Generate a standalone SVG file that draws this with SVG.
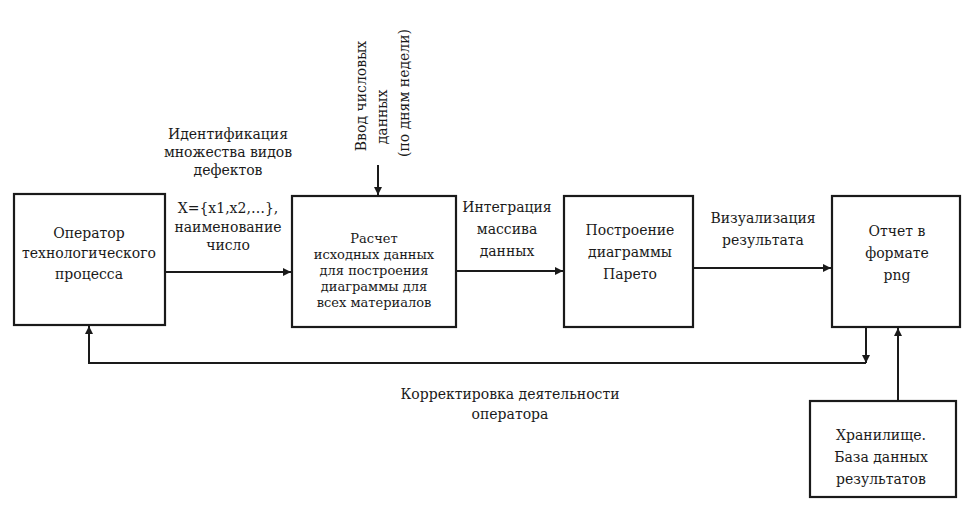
<svg xmlns="http://www.w3.org/2000/svg" width="963" height="508" viewBox="0 0 963 508">
<style>
.box{fill:#fff;stroke:#1a1a1a;stroke-width:2.2}
.ln{fill:none;stroke:#1a1a1a;stroke-width:2}
.t{font-family:'DejaVu Serif','Liberation Serif',serif;font-size:14px;fill:#1a1a1a;text-anchor:middle}
.s{font-size:13px}
</style>
<defs>
<marker id="ah" viewBox="0 0 10 10" refX="10" refY="5" markerWidth="10" markerHeight="8" markerUnits="userSpaceOnUse" orient="auto">
<path d="M0,0 L10,5 L0,10 z" fill="#1a1a1a"/>
</marker>
</defs>
<rect width="963" height="508" fill="#fff"/>
<g id="connectors">
<line class="ln" x1="165" y1="272" x2="291" y2="272" marker-end="url(#ah)"/>
<line class="ln" x1="456" y1="271" x2="563" y2="271" marker-end="url(#ah)"/>
<line class="ln" x1="693" y1="268" x2="831" y2="268" marker-end="url(#ah)"/>
<line class="ln" x1="378" y1="165" x2="378" y2="195" marker-end="url(#ah)"/>
<line class="ln" x1="866" y1="327" x2="866" y2="363" marker-end="url(#ah)"/>
<polyline class="ln" points="866,363 89,363 89,326" marker-end="url(#ah)"/>
<line class="ln" x1="898" y1="401" x2="898" y2="328" marker-end="url(#ah)"/>
</g>
<g id="labels" class="t">
<text x="228" y="139">Идентификация</text>
<text x="228" y="157">множества видов</text>
<text x="228" y="175">дефектов</text>
<text x="228" y="213">X={x1,x2,…},</text>
<text x="228" y="232">наименование</text>
<text x="228" y="250">число</text>
<text transform="translate(366,96) rotate(-90)">Ввод числовых</text>
<text transform="translate(387,117) rotate(-90)">данных</text>
<text transform="translate(409,93) rotate(-90)">(по дням недели)</text>
<text x="507" y="212">Интеграция</text>
<text x="507" y="234">массива</text>
<text x="507" y="256">данных</text>
<text x="763" y="223">Визуализация</text>
<text x="763" y="245">результата</text>
<text x="510" y="399">Корректировка деятельности</text>
<text x="510" y="419">оператора</text>
</g>
<g id="n1" class="t"><rect class="box" x="14" y="194" width="151" height="131"/>
<text x="89" y="238">Оператор</text><text x="89" y="258">технологического</text><text x="89" y="279">процесса</text></g>
<g id="n2" class="t s"><rect class="box" x="292" y="196" width="164" height="131"/>
<text x="374" y="243">Расчет</text><text x="374" y="259">исходных данных</text><text x="374" y="275">для построения</text><text x="374" y="291">диаграммы для</text><text x="374" y="307">всех материалов</text></g>
<g id="n3" class="t"><rect class="box" x="564" y="196" width="129" height="131"/>
<text x="630" y="235">Построение</text><text x="630" y="257">диаграммы</text><text x="630" y="279">Парето</text></g>
<g id="n4" class="t"><rect class="box" x="832" y="196" width="128" height="131"/>
<text x="897" y="236">Отчет в</text><text x="897" y="258">формате</text><text x="897" y="280">png</text></g>
<g id="n5" class="t"><rect class="box" x="810" y="401" width="146" height="96"/>
<text x="881" y="440">Хранилище.</text><text x="881" y="462">База данных</text><text x="881" y="484">результатов</text></g>
</svg>
